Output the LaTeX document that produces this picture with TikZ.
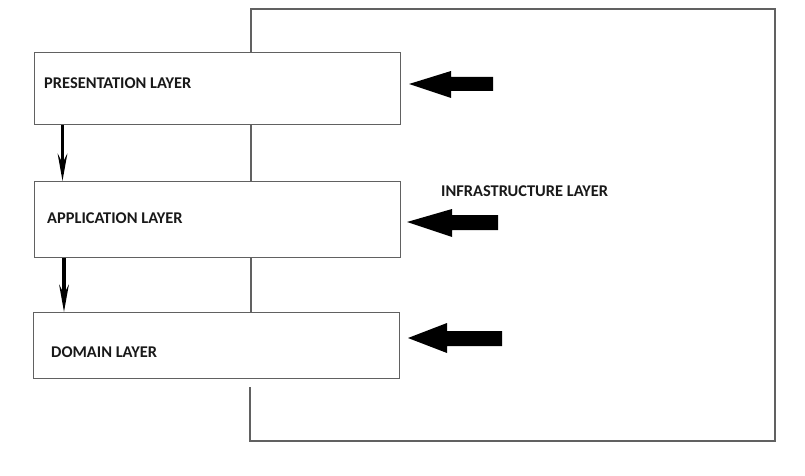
\documentclass[tikz,border=0pt]{standalone}
\usepackage{fontspec}
\setmainfont{Carlito}
\usetikzlibrary{arrows.meta}
\begin{document}
\begin{tikzpicture}[x=1pt,y=-1pt,
  edge/.style={draw=black!62,line width=1.1pt},
  layerbox/.style={edge,fill=white,rectangle,inner sep=0pt,anchor=north west,minimum width=366pt},
  lbl/.style={font=\fontsize{16.4}{18}\selectfont\bfseries,anchor=base west,inner sep=0pt,text=black!90},
  dnarrow/.style={line width=3.6pt,-{Stealth[length=27pt,width=9.5pt,inset=9pt]}},
  bigarrow/.style={fill=black}]
\useasboundingbox[fill=white] (0,0) rectangle (805,476);
% infrastructure frame
\draw[edge] (250,387) |- (775,441) |- (251,9) -- (251,378);
% layer boxes
\node[layerbox,minimum height=72pt] (pres) at (34,52) {};
\node[layerbox,minimum height=76pt] (app) at (34,181) {};
\node[layerbox,minimum height=66pt] (dom) at (33,312) {};
% labels
\node[lbl] (presl) at (44,89) {PRESENTATION LAYER};
\node[lbl] (appl) at (47,223) {APPLICATION LAYER};
\node[lbl] (doml) at (51,357) {DOMAIN LAYER};
\node[lbl] (infral) at (441,196) {INFRASTRUCTURE LAYER};
% down arrows
\draw[dnarrow] ([xshift=28.5pt]pres.south west) -- ([xshift=28.5pt]app.north west);
\draw[dnarrow] ([xshift=30pt]app.south west) -- ([xshift=31pt]dom.north west);
% big arrows
\fill[bigarrow] (409,84) -- (451,71) -- (451,77) -- (493,77) -- (493,91) -- (451,91) -- (451,98) -- cycle;
\fill[bigarrow] (407,222) -- (452,209) -- (452,215) -- (498,215) -- (498,230) -- (452,230) -- (452,237) -- cycle;
\fill[bigarrow] (408,338) -- (447,323) -- (447,331) -- (502,331) -- (502,346) -- (447,346) -- (447,353) -- cycle;
\end{tikzpicture}
\end{document}
